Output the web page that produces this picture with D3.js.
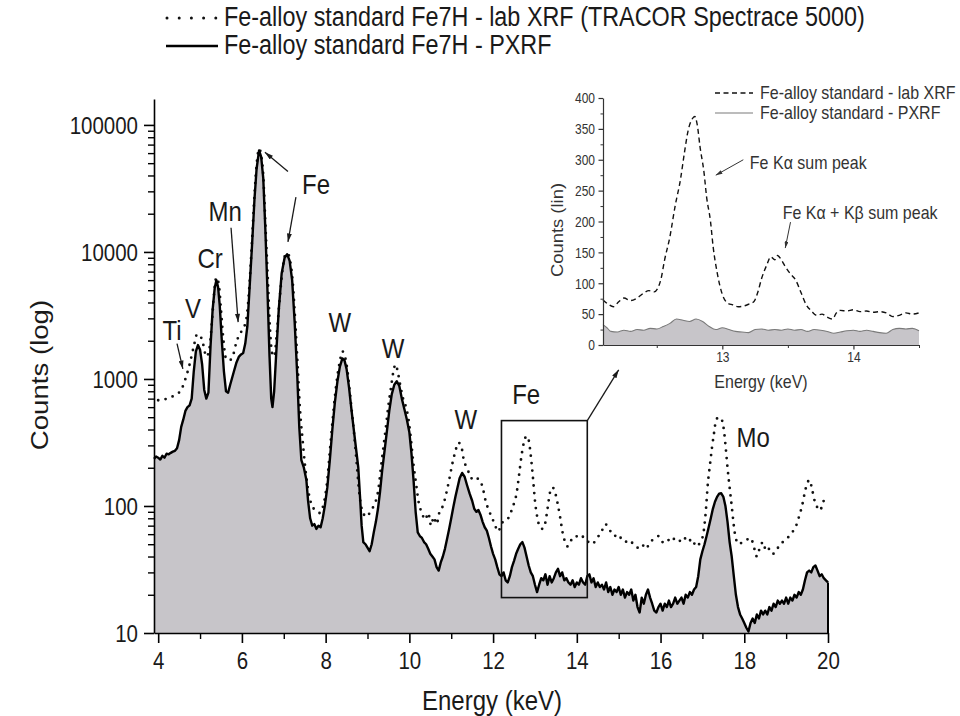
<!DOCTYPE html>
<html><head><meta charset="utf-8">
<script src="https://cdn.jsdelivr.net/npm/d3@7"></script>
<style>
html,body{margin:0;padding:0;background:#fff;}
svg{display:block;font-family:"Liberation Sans",Arial,Helvetica,sans-serif;}
</style></head><body>
<svg id="chart" width="960" height="716"></svg>
<script>
// ---------------- DATA ----------------
const legendLabels = ["Fe-alloy standard Fe7H - lab XRF (TRACOR Spectrace 5000)", "Fe-alloy standard Fe7H - PXRF"];
const insetLegendLabels = ["Fe-alloy standard - lab XRF", "Fe-alloy standard - PXRF"];
const xTicks = [4, 6, 8, 10, 12, 14, 16, 18, 20];
const xMinorTicks = [5, 7, 9, 11, 13, 15, 17, 19];
const yTicks = [10, 100, 1000, 10000, 100000];
const insetXTicks = [13, 14];
const insetXMinor = [12.5, 13.5, 14.5];
const insetYTicks = [0, 50, 100, 150, 200, 250, 300, 350, 400];

// PXRF spectrum [energy keV, counts]
const pxrfPoints = [
[3.9,235],[3.95,245],[4.0,240],[4.05,232],[4.1,248],[4.15,240],[4.2,258],[4.25,255],[4.3,262],[4.35,268],[4.4,272],[4.45,285],
[4.5,330],[4.55,420],[4.6,480],[4.65,560],[4.7,600],[4.75,620],[4.8,700],[4.85,1150],[4.9,1650],[4.95,1850],[5.0,1700],[5.05,1300],
[5.1,820],[5.15,700],[5.2,780],[5.25,1800],[5.3,3500],[5.35,5200],[5.39,6000],[5.43,5300],[5.47,3800],[5.52,2000],[5.57,1150],
[5.62,800],[5.67,780],[5.72,900],[5.8,1120],[5.87,1350],[5.93,1500],[5.98,1560],[6.03,1600],[6.08,1900],[6.13,2600],[6.18,5000],
[6.24,11000],[6.3,26000],[6.35,45000],[6.41,63000],[6.46,56000],[6.51,38000],[6.56,15000],[6.61,5000],[6.66,1500],[6.7,700],
[6.73,600],[6.77,800],[6.82,1600],[6.88,3500],[6.95,6800],[7.02,9000],[7.08,9600],[7.14,8500],[7.2,6000],[7.26,2800],[7.32,1100],
[7.37,420],[7.42,230],[7.48,200],[7.54,160],[7.58,110],[7.63,80],[7.68,70],[7.73,72],[7.78,66],[7.83,70],[7.88,68],[7.93,80],
[7.98,100],[8.04,140],[8.1,230],[8.16,400],[8.22,650],[8.28,950],[8.34,1250],[8.4,1450],[8.45,1400],[8.5,1200],[8.56,850],
[8.62,560],[8.68,380],[8.74,260],[8.78,200],[8.82,120],[8.86,70],[8.9,52],[8.95,50],[9.0,47],[9.05,44],[9.1,50],[9.15,62],
[9.2,75],[9.25,95],[9.3,130],[9.35,190],[9.4,260],[9.46,380],[9.52,560],[9.58,760],[9.64,900],[9.7,960],[9.76,880],[9.82,700],
[9.88,580],[9.94,480],[10.0,380],[10.05,260],[10.1,160],[10.15,90],[10.2,62],[10.25,58],[10.3,56],[10.35,52],[10.4,50],[10.45,46],
[10.5,42],[10.55,40],[10.6,38],[10.65,33],[10.7,31],[10.75,36],[10.8,40],[10.85,46],[10.9,55],[10.95,66],[11.0,80],[11.05,98],
[11.1,118],[11.15,140],[11.2,165],[11.26,182],[11.32,170],[11.38,145],[11.44,125],[11.5,110],[11.55,95],[11.6,90],[11.65,93],
[11.7,85],[11.75,75],[11.8,68],[11.85,64],[11.9,56],[11.95,48],[12.0,42],[12.05,38],[12.1,33],[12.15,29],[12.2,28],[12.25,30],
[12.3,26],[12.35,25],[12.4,28],[12.45,33],[12.5,37],[12.55,42],[12.6,46],[12.65,50],[12.7,52],[12.75,47],[12.8,40],[12.85,34],
[12.9,30],[12.95,28],[13.0,24],[13.05,21],[13.1,24],[13.15,27],[13.2,26],[13.25,29],[13.3,24],[13.35,28],[13.4,25],[13.45,27],
[13.5,30],[13.55,32],[13.6,28],[13.65,30],[13.7,26],[13.75,27],[13.8,25],[13.85,24],[13.9,26],[13.95,23],[14.0,25],[14.05,24],
[14.1,27],[14.15,25],[14.2,24],[14.25,28],[14.3,29],[14.35,25],[14.4,27],[14.45,23],[14.5,25],[14.55,23],[14.6,24],[14.65,22],
[14.7,25],[14.75,21],[14.8,23],[14.85,20],[14.9,22],[14.95,21],[15.0,23],[15.05,20],[15.1,22],[15.15,19],[15.2,21],[15.25,20],
[15.3,22],[15.35,18],[15.4,20],[15.45,16],[15.5,14.5],[15.55,19],[15.6,17],[15.65,20],[15.7,22],[15.75,19],[15.8,17],[15.85,15],
[15.9,14.5],[15.95,16],[16.0,17],[16.05,15],[16.1,17],[16.15,16],[16.2,18],[16.25,16],[16.3,17],[16.35,19],[16.4,17],[16.45,18],
[16.5,19],[16.55,17],[16.6,20],[16.65,19],[16.7,21],[16.75,20],[16.8,22],[16.85,23],[16.9,28],[16.95,38],[17.0,44],[17.05,50],
[17.1,58],[17.15,68],[17.2,80],[17.25,95],[17.3,108],[17.35,118],[17.4,125],[17.45,126],[17.5,118],[17.55,100],[17.6,75],
[17.65,52],[17.7,40],[17.75,28],[17.8,20],[17.85,16],[17.9,14],[17.95,13],[18.0,12],[18.05,11],[18.1,10.3],[18.15,12],[18.2,13],
[18.25,12],[18.3,14],[18.35,13],[18.4,15],[18.45,14],[18.5,15],[18.55,14],[18.6,16],[18.65,15],[18.7,17],[18.75,16],[18.8,18],
[18.85,17],[18.9,18],[18.95,17],[19.0,19],[19.05,17],[19.1,19],[19.15,18],[19.2,20],[19.25,19],[19.3,21],[19.35,20],[19.4,22],
[19.45,26],[19.5,30],[19.55,31],[19.6,30],[19.65,33],[19.7,34],[19.75,31],[19.8,28],[19.85,29],[19.9,27],[19.95,26],[20.0,25]
];

// Lab XRF spectrum [energy keV, counts]
const labPoints = [
[4.0,680],[4.15,690],[4.3,720],[4.45,760],[4.55,820],[4.65,1000],[4.75,1300],[4.85,1800],[4.93,2250],[5.0,2200],[5.07,1900],
[5.15,1500],[5.22,1700],[5.28,2700],[5.33,4500],[5.39,6300],[5.45,5500],[5.5,3500],[5.56,2000],[5.62,1450],[5.7,1400],[5.78,1500],
[5.86,1900],[5.93,2200],[6.0,2400],[6.06,2600],[6.12,3200],[6.18,5500],[6.24,12000],[6.3,28000],[6.35,48000],[6.41,65000],
[6.46,58000],[6.51,40000],[6.56,17000],[6.62,6000],[6.67,2500],[6.72,1600],[6.77,1500],[6.83,2200],[6.9,4200],[6.97,7200],
[7.03,9400],[7.09,9800],[7.15,8600],[7.21,6000],[7.27,3000],[7.33,1300],[7.39,560],[7.45,330],[7.5,220],[7.56,150],[7.62,115],
[7.68,100],[7.74,93],[7.8,90],[7.86,88],[7.92,95],[7.98,115],[8.04,160],[8.1,270],[8.16,450],[8.22,720],[8.28,1050],[8.34,1380],
[8.4,1650],[8.45,1550],[8.5,1300],[8.56,900],[8.62,580],[8.68,370],[8.74,220],[8.8,130],[8.86,95],[8.92,85],[8.98,82],[9.05,88],
[9.12,96],[9.2,110],[9.26,135],[9.32,200],[9.38,290],[9.44,420],[9.5,620],[9.56,850],[9.62,1150],[9.67,1300],[9.72,1150],[9.78,900],
[9.85,700],[9.92,600],[9.98,480],[10.04,330],[10.1,210],[10.16,150],[10.22,108],[10.3,88],[10.38,78],[10.45,88],[10.52,70],
[10.58,82],[10.65,72],[10.72,90],[10.8,100],[10.88,125],[10.95,160],[11.02,210],[11.1,270],[11.17,315],[11.24,295],[11.3,230],
[11.37,200],[11.45,175],[11.52,160],[11.6,165],[11.68,160],[11.75,140],[11.82,110],[11.9,92],[11.98,80],[12.05,70],[12.12,63],
[12.2,72],[12.28,78],[12.36,80],[12.44,92],[12.5,105],[12.56,125],[12.62,175],[12.68,250],[12.74,320],[12.8,355],[12.85,330],
[12.9,250],[12.95,170],[13.0,110],[13.06,80],[13.12,68],[13.18,66],[13.24,72],[13.3,95],[13.36,128],[13.42,140],[13.48,128],
[13.54,105],[13.6,82],[13.66,62],[13.72,52],[13.78,48],[13.84,52],[13.9,56],[13.98,58],[14.05,56],[14.12,58],[14.2,54],[14.28,52],
[14.36,50],[14.44,53],[14.52,58],[14.6,64],[14.68,72],[14.75,68],[14.82,62],[14.9,58],[14.98,60],[15.05,56],[15.15,52],[15.25,54],
[15.35,50],[15.45,47],[15.55,50],[15.65,46],[15.75,52],[15.85,55],[15.95,58],[16.05,52],[16.15,55],[16.25,52],[16.35,56],[16.45,53],
[16.55,57],[16.65,52],[16.75,55],[16.85,48],[16.95,52],[17.02,60],[17.08,90],[17.13,150],[17.18,210],[17.23,290],[17.28,380],
[17.33,480],[17.4,500],[17.47,470],[17.52,380],[17.56,280],[17.6,200],[17.65,140],[17.7,100],[17.75,70],[17.8,55],[17.88,50],
[17.95,52],[18.05,54],[18.15,56],[18.25,45],[18.3,40],[18.38,48],[18.45,52],[18.52,44],[18.6,46],[18.68,42],[18.76,44],[18.85,50],
[18.92,52],[19.0,55],[19.08,58],[19.16,63],[19.24,70],[19.32,85],[19.38,100],[19.44,125],[19.5,150],[19.56,160],[19.62,135],
[19.68,110],[19.74,98],[19.8,92],[19.86,100],[19.92,118]
];

// Inset (linear counts)
const insetLabPoints = [
[12.09,73],[12.13,66],[12.17,62],[12.21,70],[12.25,76],[12.3,72],[12.35,76],[12.4,84],[12.44,88],[12.48,86],[12.53,105],[12.56,138],
[12.6,175],[12.64,225],[12.68,267],[12.71,310],[12.74,348],[12.77,366],[12.79,370],[12.81,355],[12.83,321],[12.86,280],[12.88,240],
[12.91,200],[12.93,159],[12.96,118],[13.0,82],[13.04,68],[13.08,65],[13.12,62],[13.16,63],[13.2,66],[13.24,70],[13.27,85],[13.3,108],
[13.34,130],[13.37,143],[13.4,138],[13.42,145],[13.45,138],[13.48,127],[13.52,115],[13.56,105],[13.6,85],[13.64,65],[13.68,55],
[13.72,48],[13.76,50],[13.8,45],[13.84,42],[13.87,52],[13.9,56],[13.95,55],[14.0,57],[14.05,54],[14.1,55],[14.15,53],[14.2,54],
[14.25,52],[14.3,46],[14.35,48],[14.4,52],[14.45,50],[14.5,52]
];
const insetPxrfPoints = [
[12.09,33],[12.12,28],[12.15,22],[12.2,21],[12.25,24],[12.3,22],[12.35,25],[12.4,24],[12.45,27],[12.5,26],[12.55,30],[12.6,35],
[12.65,42],[12.7,40],[12.75,38],[12.8,42],[12.85,38],[12.9,30],[12.95,25],[13.0,28],[13.05,25],[13.1,22],[13.15,21],[13.2,20],
[13.25,25],[13.3,26],[13.35,24],[13.4,25],[13.45,24],[13.5,26],[13.55,24],[13.6,25],[13.65,22],[13.7,25],[13.75,24],[13.8,22],
[13.85,19],[13.9,21],[13.95,23],[14.0,24],[14.05,22],[14.1,24],[14.15,22],[14.2,20],[14.25,19],[14.3,25],[14.35,27],[14.4,26],
[14.45,27],[14.5,23]
];

// Annotations (data coordinates)
const peakLabels = [
  {t:"Ti", x:4.33, y:2430}, {t:"V", x:4.83, y:3630}, {t:"Cr", x:5.24, y:8900}, {t:"Mn", x:5.6, y:21000},
  {t:"Fe", x:7.77, y:34000}, {t:"W", x:8.34, y:2800}, {t:"W", x:9.61, y:1730}, {t:"W", x:11.35, y:485},
  {t:"Fe", x:12.79, y:760}, {t:"Mo", x:18.21, y:350}
];
const peakArrows = [
  [[4.45,1900],[4.59,1200]], [[5.74,15500],[5.91,2800]], [[7.1,43000],[6.55,61000]], [[7.29,27000],[7.1,12000]],
  [[14.25,470],[15.0,1180]]
];
const zoomBoxEnergy = [12.2, 14.25];
const zoomBoxCounts = [19, 470];
const insetLabels = [{t:"Fe K\u03B1 sum peak", x:13.21, y:295}, {t:"Fe K\u03B1 + K\u03B2 sum peak", x:13.46, y:215}];
const insetArrows = [[[13.16,300],[12.95,275]], [[13.52,199],[13.48,157]]];

// ---------------- DRAW ----------------
const SY = 1.15;
const INK = "#1a1a1a";
const FILL = "#c7c5c9";
const svg = d3.select("#chart");

const defs = svg.append("defs");
defs.append("marker").attr("id","ah").attr("viewBox","0 0 10 6").attr("refX",10).attr("refY",3)
  .attr("markerWidth",9).attr("markerHeight",5).attr("orient","auto").attr("markerUnits","userSpaceOnUse")
  .append("path").attr("d","M0,0L10,3L0,6Z").attr("fill",INK);
defs.append("marker").attr("id","ahs").attr("viewBox","0 0 10 6").attr("refX",10).attr("refY",3)
  .attr("markerWidth",7).attr("markerHeight",4).attr("orient","auto").attr("markerUnits","userSpaceOnUse")
  .append("path").attr("d","M0,0L10,3L0,6Z").attr("fill","#333");

function addText(parent, px, py, str, o) {
  o = o || {};
  const g = parent.append("g").attr("transform", `translate(${px},${py}) scale(1,${SY})` + (o.rotate ? " rotate(-90)" : ""));
  g.append("text").attr("font-size", o.size || 20).attr("text-anchor", o.anchor || "start")
    .attr("dy", o.dy || "0.35em").attr("fill", o.fill || INK).text(str);
  return g;
}

const x = d3.scaleLinear().domain([3.9, 20]).range([154, 828]);
const y = d3.scaleLog().domain([10, 160000]).range([633, 99]);

const area = d3.area().x(d => x(d[0])).y0(y(10)).y1(d => y(d[1])).curve(d3.curveLinear);
const line = d3.line().x(d => x(d[0])).y(d => y(d[1])).curve(d3.curveLinear);
const dotLine = d3.line().x(d => x(d[0])).y(d => y(d[1])).curve(d3.curveMonotoneX);

svg.append("path").datum(pxrfPoints).attr("d", area).attr("fill", FILL);
svg.append("path").datum(labPoints).attr("d", dotLine).attr("fill","none").attr("stroke", "#111")
  .attr("stroke-width", 2.8).attr("stroke-linecap","round").attr("stroke-dasharray","0 7.5");
svg.append("path").datum(pxrfPoints).attr("d", line).attr("fill","none").attr("stroke", "#000")
  .attr("stroke-width", 2.4).attr("stroke-linejoin","round");
const last = pxrfPoints[pxrfPoints.length-1];
svg.append("line").attr("x1", x(last[0])).attr("x2", x(last[0])).attr("y1", y(last[1])).attr("y2", y(10))
  .attr("stroke","#000").attr("stroke-width",2);

// axes
function styleAxis(g, size, sw, col) {
  g.attr("font-family", null).attr("font-size", size);
  g.selectAll("path.domain").attr("stroke", col).attr("stroke-width", sw);
  g.selectAll(".tick line").attr("stroke", col).attr("stroke-width", sw);
  g.selectAll(".tick text").attr("fill", col === "#000" ? INK : col);
}
const yMinor = [];
[10,100,1000,10000].forEach(dec => { for (let k = 2; k <= 9; k++) yMinor.push(k*dec); });

const gYm = svg.append("g").attr("transform","translate(154,0)")
  .call(d3.axisLeft(y).tickValues(yMinor).tickFormat("").tickSize(6).tickSizeOuter(0));
gYm.select(".domain").remove();
styleAxis(gYm, 20, 1.4, "#000");
const gY = svg.append("g").attr("transform","translate(154,0)")
  .call(d3.axisLeft(y).tickValues(yTicks).tickFormat(d3.format("d")).tickSize(10).tickSizeOuter(0));
styleAxis(gY, 20.5, 1.6, "#000");
gY.selectAll(".tick text").attr("x", -16).attr("dy","0.35em").attr("transform", `scale(1,${SY})`);

const gXm = svg.append("g").attr("transform","translate(0,633)")
  .call(d3.axisBottom(x).tickValues(xMinorTicks).tickFormat("").tickSize(6).tickSizeOuter(0));
gXm.select(".domain").remove();
styleAxis(gXm, 20, 1.4, "#000");
const gX = svg.append("g").attr("transform","translate(0,633)")
  .call(d3.axisBottom(x).tickValues(xTicks).tickFormat(d3.format("d")).tickSize(10).tickSizeOuter(0));
styleAxis(gX, 20.5, 1.6, "#000");
gX.selectAll(".tick text").attr("y", 17).attr("transform", `scale(1,${SY})`);

addText(svg, 492, 700, "Energy (keV)", {size:24, anchor:"middle"});
addText(svg, 40, 375, "Counts (log)", {size:24, anchor:"middle", rotate:true});

// legend
const lg = svg.append("g");
lg.append("line").attr("x1",167).attr("x2",216).attr("y1",18).attr("y2",18).attr("stroke","#111")
  .attr("stroke-width",3).attr("stroke-linecap","round").attr("stroke-dasharray","0 12.2");
addText(lg, 224, 17, legendLabels[0], {size:23.4});
lg.append("line").attr("x1",166).attr("x2",218).attr("y1",46).attr("y2",46).attr("stroke","#000").attr("stroke-width",2.6);
addText(lg, 224, 45, legendLabels[1], {size:23.4});

// zoom box + arrows
svg.append("rect").attr("x", x(zoomBoxEnergy[0])).attr("y", y(zoomBoxCounts[1]))
  .attr("width", x(zoomBoxEnergy[1]) - x(zoomBoxEnergy[0])).attr("height", y(zoomBoxCounts[0]) - y(zoomBoxCounts[1]))
  .attr("fill","none").attr("stroke","#111").attr("stroke-width",1.6);
peakArrows.forEach(a => {
  svg.append("line").attr("x1", x(a[0][0])).attr("y1", y(a[0][1])).attr("x2", x(a[1][0])).attr("y2", y(a[1][1]))
    .attr("stroke", INK).attr("stroke-width", 1.3).attr("marker-end","url(#ah)");
});
peakLabels.forEach(p => addText(svg, x(p.x), y(p.y), p.t, {size:24, anchor:"middle"}));

// ---------------- INSET ----------------
const xi = d3.scaleLinear().domain([12.09, 14.5]).range([603, 919]);
const yi = d3.scaleLinear().domain([0, 400]).range([345, 98]);
const ins = svg.append("g");
const areaI = d3.area().x(d => xi(d[0])).y0(yi(0)).y1(d => yi(d[1])).curve(d3.curveMonotoneX);
const lineI = d3.line().x(d => xi(d[0])).y(d => yi(d[1])).curve(d3.curveMonotoneX);
ins.append("path").datum(insetPxrfPoints).attr("d", areaI).attr("fill", FILL);
ins.append("path").datum(insetPxrfPoints).attr("d", lineI).attr("fill","none").attr("stroke","#7a7a7a").attr("stroke-width",1.1);
ins.append("path").datum(insetLabPoints).attr("d", lineI).attr("fill","none").attr("stroke","#111")
  .attr("stroke-width",1.4).attr("stroke-dasharray","5 3.5");

const insYMinor = [25,75,125,175,225,275,325,375];
const giym = ins.append("g").attr("transform","translate(603,0)")
  .call(d3.axisLeft(yi).tickValues(insYMinor).tickFormat("").tickSize(2.5).tickSizeOuter(0));
giym.select(".domain").remove();
styleAxis(giym, 12, 1, "#333");
const giy = ins.append("g").attr("transform","translate(603,0)")
  .call(d3.axisLeft(yi).tickValues(insetYTicks).tickFormat(d3.format("d")).tickSize(4.5).tickSizeOuter(0));
styleAxis(giy, 12, 1.2, "#333");
giy.selectAll(".tick text").attr("x", -8).attr("dy","0.35em").attr("transform", `scale(1,${SY})`);
const gixm = ins.append("g").attr("transform","translate(0,345)")
  .call(d3.axisBottom(xi).tickValues(insetXMinor).tickFormat("").tickSize(3).tickSizeOuter(0));
gixm.select(".domain").remove();
styleAxis(gixm, 12, 1, "#333");
const gix = ins.append("g").attr("transform","translate(0,345)")
  .call(d3.axisBottom(xi).tickValues(insetXTicks).tickFormat(d3.format("d")).tickSize(4.5).tickSizeOuter(0));
styleAxis(gix, 12, 1.2, "#333");
gix.selectAll(".tick text").attr("y", 6).attr("transform", `scale(1,${SY})`);

addText(ins, 761, 382, "Energy (keV)", {size:16, anchor:"middle", fill:"#333"});
addText(ins, 557, 230, "Counts (lin)", {size:16, anchor:"middle", rotate:true, fill:"#333"});

// inset legend
ins.append("line").attr("x1",715).attr("x2",753).attr("y1",93).attr("y2",93).attr("stroke","#111")
  .attr("stroke-width",1.4).attr("stroke-dasharray","5 3.5");
addText(ins, 760, 93, insetLegendLabels[0], {size:16, fill:"#333"});
ins.append("line").attr("x1",715).attr("x2",753).attr("y1",113).attr("y2",113).attr("stroke","#7a7a7a").attr("stroke-width",1.2);
addText(ins, 760, 113, insetLegendLabels[1], {size:16, fill:"#333"});

insetArrows.forEach(a => {
  ins.append("line").attr("x1", xi(a[0][0])).attr("y1", yi(a[0][1])).attr("x2", xi(a[1][0])).attr("y2", yi(a[1][1]))
    .attr("stroke","#333").attr("stroke-width",1).attr("marker-end","url(#ahs)");
});
insetLabels.forEach(p => addText(ins, xi(p.x), yi(p.y), p.t, {size:16, fill:"#333"}));
</script>
</body></html>
